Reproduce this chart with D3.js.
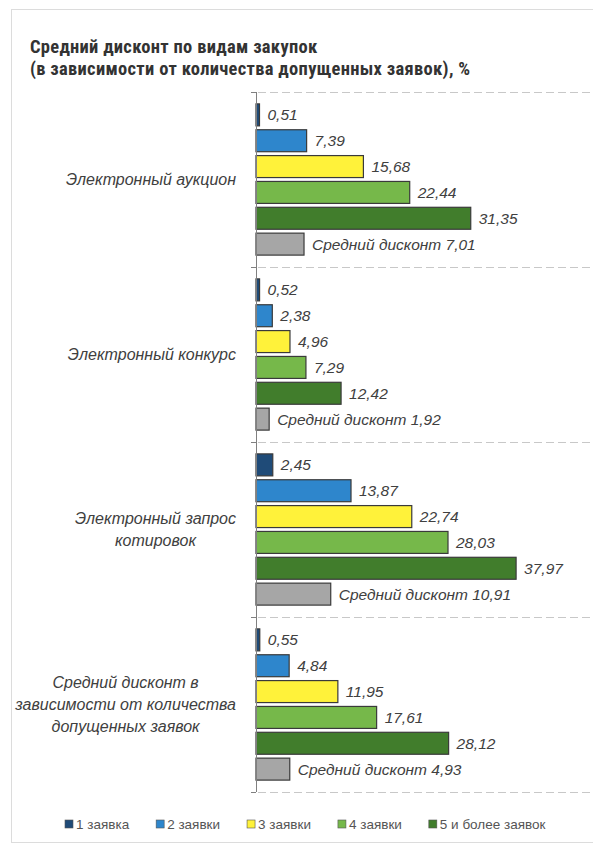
<!DOCTYPE html>
<html>
<head>
<meta charset="utf-8">
<script src="https://d3js.org/d3.v7.min.js"></script>
<style>
  body { margin: 0; background: #fff; }
  svg { display: block; }
</style>
</head>
<body>
<svg id="viz"></svg>
<script>
// data
var categories = [
  "Электронный аукцион",
  "Электронный конкурс",
  "Электронный запрос\nкотировок",
  "Средний дисконт в\nзависимости от количества\nдопущенных заявок"
];
var seriesNames = ["1 заявка", "2 заявки", "3 заявки", "4 заявки", "5 и более заявок"];
var s1 = [0.51, 0.52, 2.45, 0.55];
var s2 = [7.39, 2.38, 13.87, 4.84];
var s3 = [15.68, 4.96, 22.74, 11.95];
var s4 = [22.44, 7.29, 28.03, 17.61];
var s5 = [31.35, 12.42, 37.97, 28.12];
var avg = [7.01, 1.92, 10.91, 4.93];
var avgLabel = "Средний дисконт";

var width = 593, height = 845;
var colors = ["#1f4b78", "#2e86cc", "#fff23a", "#76b84a", "#417d2c"];
var avgColor = "#a6a6a6";
var fmt = function(v) { return d3.format(".2f")(v).replace(".", ","); };

var svg = d3.select("#viz").attr("width", width).attr("height", height);

// light frame round the chart
svg.append("rect")
  .attr("x", 11.5).attr("y", 9.5)
  .attr("width", width).attr("height", 833)
  .attr("fill", "#fff").attr("stroke", "#dcdcdc");

// title
var title = svg.append("text")
  .attr("font-family", "'Liberation Sans Narrow', 'Arial Narrow', 'Roboto Condensed', Arial, sans-serif")
  .attr("font-weight", "bold").attr("font-size", 18.5).attr("letter-spacing", 0.3)
  .attr("fill", "#333");
title.append("tspan").attr("x", 30).attr("y", 53).text("Средний дисконт по видам закупок");
title.append("tspan").attr("x", 30).attr("y", 75).text("(в зависимости от количества допущенных заявок), %");

var x0 = 256;
var x = d3.scaleLinear().domain([0, 40]).range([x0, x0 + 40 * 6.85]);
var y = d3.scaleBand().domain(d3.range(categories.length)).range([92, 792]);
var rows = seriesNames.map(function(n, i) { return i; }).concat(["avg"]);
var yInner = d3.scaleBand().domain(rows).range([0, y.bandwidth()])
  .paddingInner(0.15).paddingOuter(0.46);

var allSeries = [s1, s2, s3, s4, s5];

// dashed separators and axis ticks at group edges
var edges = categories.map(function(c, i) { return y(i); }).concat([y(categories.length - 1) + y.bandwidth()]);
svg.append("g").selectAll("line").data(edges).enter().append("line")
  .attr("x1", x0 + 2).attr("x2", width)
  .attr("y1", function(d) { return d + 0.5; }).attr("y2", function(d) { return d + 0.5; })
  .attr("stroke", "#c8c8c8").attr("stroke-dasharray", "8,4");
svg.append("g").selectAll("line").data(edges).enter().append("line")
  .attr("x1", x0 - 5).attr("x2", x0)
  .attr("y1", function(d) { return d + 0.5; }).attr("y2", function(d) { return d + 0.5; })
  .attr("stroke", "#808080");

var groups = svg.append("g").selectAll("g").data(categories).enter().append("g")
  .attr("transform", function(d, i) { return "translate(0," + y(i) + ")"; });

groups.each(function(cat, gi) {
  var g = d3.select(this);
  var bars = rows.map(function(r) {
    if (r === "avg") return { row: r, value: avg[gi], color: avgColor, label: avgLabel + " " + fmt(avg[gi]) };
    return { row: r, value: allSeries[r][gi], color: colors[r], label: fmt(allSeries[r][gi]) };
  });
  g.selectAll("rect").data(bars).enter().append("rect")
    .attr("x", x(0))
    .attr("y", function(d) { return yInner(d.row); })
    .attr("width", function(d) { return x(d.value) - x(0); })
    .attr("height", yInner.bandwidth())
    .attr("fill", function(d) { return d.color; })
    .attr("stroke", "#3a3a3a").attr("stroke-width", 1.2);
  g.selectAll("text.val").data(bars).enter().append("text")
    .attr("class", "val")
    .attr("x", function(d) { return x(d.value) + 8; })
    .attr("y", function(d) { return yInner(d.row) + yInner.bandwidth() / 2; })
    .attr("dy", "0.36em")
    .attr("font-family", "'Liberation Sans', Arial, sans-serif")
    .attr("font-style", "italic").attr("font-size", 15.5).attr("fill", "#404040")
    .text(function(d) { return d.label; });

  // category label, lines centred, block right-aligned to the axis
  var lines = cat.split("\n");
  var lab = g.append("text")
    .attr("font-family", "'Liberation Sans', Arial, sans-serif")
    .attr("font-style", "italic").attr("font-size", 16).attr("fill", "#404040")
    .attr("text-anchor", "middle");
  var lh = 22;
  lines.forEach(function(t, li) {
    lab.append("tspan")
      .attr("y", y.bandwidth() / 2 + (li - (lines.length - 1) / 2) * lh)
      .attr("dy", "0.36em").text(t);
  });
  var w = d3.max(lab.selectAll("tspan").nodes(), function(n) { return n.getComputedTextLength(); });
  lab.selectAll("tspan").attr("x", 236 - w / 2);
});

// axis line
svg.append("line")
  .attr("x1", x0 + 0.5).attr("x2", x0 + 0.5)
  .attr("y1", y(0)).attr("y2", y(categories.length - 1) + y.bandwidth())
  .attr("stroke", "#808080");

// legend
var legend = svg.append("g").attr("transform", "translate(65,824)");
var lx = 0;
seriesNames.forEach(function(n, i) {
  var item = legend.append("g").attr("transform", "translate(" + lx + ",0)");
  item.append("rect").attr("x", 0).attr("y", -4).attr("width", 8).attr("height", 8)
    .attr("fill", colors[i]).attr("stroke", "#555").attr("stroke-width", 0.6);
  var t = item.append("text").attr("x", 11).attr("dy", "0.36em")
    .attr("font-family", "'Liberation Sans Narrow', 'Arial Narrow', Arial, sans-serif")
    .attr("font-size", 13.5).attr("fill", "#555").text(n);
  lx += 11 + t.node().getComputedTextLength() + 27;
});
</script>
</body>
</html>
